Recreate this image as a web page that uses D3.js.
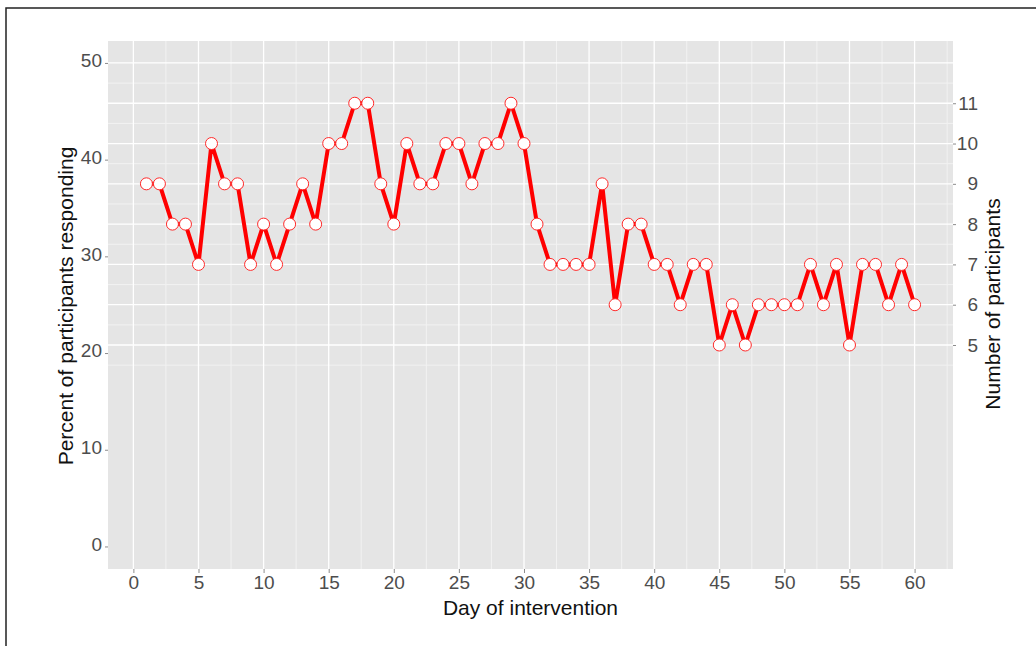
<!DOCTYPE html>
<html>
<head>
<meta charset="utf-8">
<script src="https://cdn.jsdelivr.net/npm/d3@7/dist/d3.min.js"></script>
<style>
  body { margin: 0; background: #fff; }
  text { font-family: "Liberation Sans", Arial, sans-serif; }
</style>
</head>
<body>
<svg id="chart" width="1036" height="646"></svg>
<script>
// day of intervention and number of participants responding that day
const days = [1, 2, 3, 4, 5, 6, 7, 8, 9, 10, 11, 12, 13, 14, 15, 16, 17, 18, 19, 20,
  21, 22, 23, 24, 25, 26, 27, 28, 29, 30, 31, 32, 33, 34, 35, 36, 37, 38, 39, 40,
  41, 42, 43, 44, 45, 46, 47, 48, 49, 50, 51, 52, 53, 54, 55, 56, 57, 58, 59, 60];
const participants = [9, 9, 8, 8, 7, 10, 9, 9, 7, 8, 7, 8, 9, 8, 10, 10, 11, 11, 9, 8,
  10, 9, 9, 10, 10, 9, 10, 10, 11, 10, 8, 7, 7, 7, 7, 9, 6, 8, 8, 7,
  7, 6, 7, 7, 5, 6, 5, 6, 6, 6, 6, 7, 6, 7, 5, 7, 7, 6, 7, 6];
const totalParticipants = 24;

const dayTicks = [0, 5, 10, 15, 20, 25, 30, 35, 40, 45, 50, 55, 60];
const dayMinor = [2.5, 7.5, 12.5, 17.5, 22.5, 27.5, 32.5, 37.5, 42.5, 47.5, 52.5, 57.5, 62.5];
const percentTicks = [0, 10, 20, 30, 40, 50];
const countTicks = [5, 6, 7, 8, 9, 10, 11];
const countGrid = [5, 6, 7, 8, 9, 10, 11, 12];
const countMinor = [4.5, 5.5, 6.5, 7.5, 8.5, 9.5, 10.5, 11.5];

const svg = d3.select("#chart");
const panel = { left: 108, top: 41, right: 953, bottom: 569 };

const x = d3.scaleLinear().domain([-1.95, 62.95]).range([panel.left, panel.right]);
const yPct = d3.scaleLinear().domain([-2.33, 52.27]).range([panel.bottom, panel.top]);
// same vertical scale, expressed as a participant count
const yCount = d3.scaleLinear()
  .domain(yPct.domain().map(p => p * totalParticipants / 100))
  .range(yPct.range());

// outer frame
svg.append("rect")
  .attr("x", 6).attr("y", 8)
  .attr("width", 1100).attr("height", 700)
  .attr("fill", "none").attr("stroke", "#222").attr("stroke-width", 1.5);

// panel
svg.append("rect")
  .attr("x", panel.left).attr("y", panel.top)
  .attr("width", panel.right - panel.left).attr("height", panel.bottom - panel.top)
  .attr("fill", "#e5e5e5");

const grid = svg.append("g");
grid.selectAll(".vminor").data(dayMinor).join("line")
  .attr("x1", d => x(d)).attr("x2", d => x(d))
  .attr("y1", panel.top).attr("y2", panel.bottom)
  .attr("stroke", "#f2f2f2").attr("stroke-width", 1);
grid.selectAll(".hminor").data(countMinor).join("line")
  .attr("x1", panel.left).attr("x2", panel.right)
  .attr("y1", d => yCount(d)).attr("y2", d => yCount(d))
  .attr("stroke", "#f2f2f2").attr("stroke-width", 1);
grid.selectAll(".vmajor").data(dayTicks).join("line")
  .attr("x1", d => x(d)).attr("x2", d => x(d))
  .attr("y1", panel.top).attr("y2", panel.bottom)
  .attr("stroke", "#fff").attr("stroke-width", 1.3);
grid.selectAll(".hmajor").data(countGrid).join("line")
  .attr("x1", panel.left).attr("x2", panel.right)
  .attr("y1", d => yCount(d)).attr("y2", d => yCount(d))
  .attr("stroke", "#fff").attr("stroke-width", 1.3);

// axes
const styleAxis = g => {
  g.select(".domain").remove();
  g.selectAll(".tick line").attr("stroke", "#8c8c8c");
  g.selectAll(".tick text").attr("fill", "#4d4d4d").style("font-size", "19px")
    .style("font-family", "'Liberation Sans', Arial, sans-serif");
};

svg.append("g")
  .attr("transform", `translate(0,${panel.bottom})`)
  .call(d3.axisBottom(x).tickValues(dayTicks).tickSize(4).tickPadding(3))
  .call(styleAxis);

svg.append("g")
  .attr("transform", `translate(${panel.left},0)`)
  .call(d3.axisLeft(yPct).tickValues(percentTicks).tickSize(3).tickPadding(3))
  .call(styleAxis)
  .call(g => g.selectAll(".tick text").attr("dy", "0.2em"));

svg.append("g")
  .attr("transform", `translate(${panel.right},0)`)
  .call(d3.axisRight(yCount).tickValues(countTicks).tickSize(3).tickPadding(3))
  .call(styleAxis)
  .call(g => g.selectAll(".tick text").attr("text-anchor", "end").attr("x", 25));

// titles
svg.append("text")
  .attr("x", (panel.left + panel.right) / 2).attr("y", 615)
  .attr("text-anchor", "middle").style("font-size", "21px").attr("fill", "#111")
  .text("Day of intervention");

svg.append("text")
  .attr("transform", "translate(66,306) rotate(-90)")
  .attr("dy", "0.35em")
  .attr("text-anchor", "middle").style("font-size", "21px").attr("fill", "#111")
  .text("Percent of participants responding");

svg.append("text")
  .attr("transform", "translate(993,304) rotate(-90)")
  .attr("dy", "0.35em")
  .attr("text-anchor", "middle").style("font-size", "21px").attr("fill", "#111")
  .text("Number of participants");

// series
const data = days.map((d, i) => ({ day: d, n: participants[i] }));

svg.append("path")
  .datum(data)
  .attr("fill", "none")
  .attr("stroke", "#ff0000")
  .attr("stroke-width", 4)
  .attr("stroke-linejoin", "round")
  .attr("d", d3.line().x(d => x(d.day)).y(d => yCount(d.n)));

svg.selectAll(".pt").data(data).join("circle")
  .attr("cx", d => x(d.day))
  .attr("cy", d => yCount(d.n))
  .attr("r", 6)
  .attr("fill", "#fff")
  .attr("stroke", "#ff2a2a")
  .attr("stroke-width", 1);
</script>
</body>
</html>
